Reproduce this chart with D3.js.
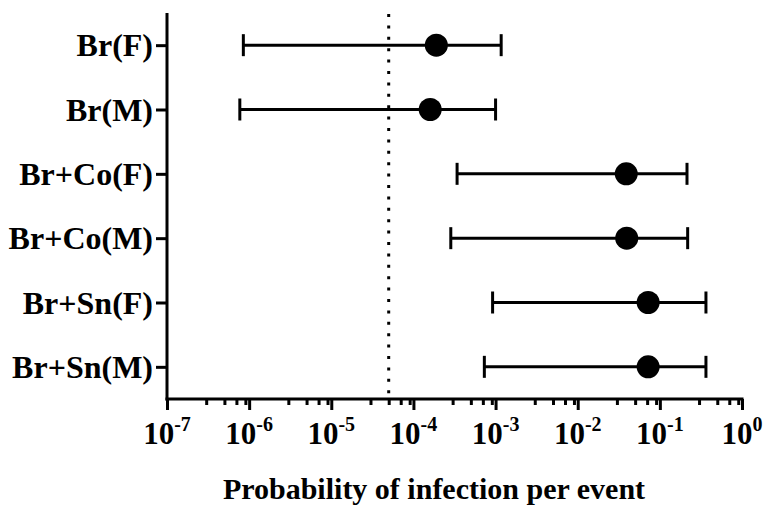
<!DOCTYPE html>
<html>
<head>
<meta charset="utf-8">
<script src="https://cdn.jsdelivr.net/npm/d3@7"></script>
<style>
  html, body { margin: 0; padding: 0; background: #fff; }
  svg { display: block; }
  text { font-family: "Times New Roman", "Liberation Serif", serif; font-weight: bold; fill: #000; }
</style>
</head>
<body>
<script>
const categories = ["Br(F)", "Br(M)", "Br+Co(F)", "Br+Co(M)", "Br+Sn(F)", "Br+Sn(M)"];
const estimate = [1.9e-4, 1.6e-4, 3.9e-2, 3.95e-2, 7.2e-2, 7.2e-2];
const lower = [8.5e-7, 7.7e-7, 3.4e-4, 2.85e-4, 9.2e-4, 7.3e-4];
const upper = [1.17e-3, 1.0e-3, 0.214, 0.218, 0.364, 0.364];
const threshold = 5e-5;
const majorTicks = [1e-7, 1e-6, 1e-5, 1e-4, 1e-3, 1e-2, 1e-1, 1];
const tickExponents = ["-7", "-6", "-5", "-4", "-3", "-2", "-1", "0"];
const minorMultipliers = [3, 5, 7, 9];
const xTitle = "Probability of infection per event";

const W = 766, H = 505;
const svg = d3.select("body").append("svg").attr("width", W).attr("height", H);

const x = d3.scaleLog().domain([1e-7, 1]).range([167, 742]);
const y = d3.scalePoint().domain(categories).range([13, 399]).padding(0.5);
const axisY = 399;

// minor ticks
const minorTicks = [];
for (let e = -7; e < 0; e++) {
  minorMultipliers.forEach(m => minorTicks.push(m * Math.pow(10, e)));
}

const gMinor = svg.append("g").attr("transform", `translate(0,${axisY})`)
  .call(d3.axisBottom(x).tickValues(minorTicks).tickSize(6).tickSizeOuter(0).tickFormat(""));
gMinor.select(".domain").remove();
gMinor.selectAll("line").attr("stroke", "#000").attr("stroke-width", 3);

const gX = svg.append("g").attr("transform", `translate(0,${axisY})`)
  .call(d3.axisBottom(x).tickValues(majorTicks).tickSize(11).tickSizeOuter(0).tickFormat(""));
gX.select(".domain").attr("stroke", "#000").attr("stroke-width", 3).attr("d", `M${x(1e-7) - 1.5},0H${x(1) + 1.5}`);
gX.selectAll("line").attr("stroke", "#000").attr("stroke-width", 3);

// tick labels with superscripts
majorTicks.forEach((v, i) => {
  const t = svg.append("text")
    .attr("x", x(v))
    .attr("y", 444)
    .attr("text-anchor", "middle")
    .style("font-size", "31px");
  t.append("tspan").text("10");
  t.append("tspan").attr("dy", -13).style("font-size", "20px").text(tickExponents[i]);
});

// Y axis
const gY = svg.append("g").attr("transform", `translate(167,0)`)
  .call(d3.axisLeft(y).tickSize(11).tickSizeOuter(0).tickFormat(""));
gY.select(".domain").attr("stroke", "#000").attr("stroke-width", 3).attr("d", `M0,13V${axisY + 1.5}`);
gY.selectAll("line").attr("stroke", "#000").attr("stroke-width", 3);

categories.forEach(c => {
  svg.append("text")
    .attr("x", 153)
    .attr("y", y(c) + 11)
    .attr("text-anchor", "end")
    .style("font-size", "32px")
    .text(c);
});

// threshold dotted line
svg.append("line")
  .attr("x1", x(threshold)).attr("x2", x(threshold))
  .attr("y1", 14).attr("y2", axisY)
  .attr("stroke", "#000").attr("stroke-width", 3)
  .attr("stroke-dasharray", "3,8.4");

// error bars
const rows = categories.map((c, i) => ({ c, m: estimate[i], lo: lower[i], hi: upper[i] }));
const g = svg.append("g");
rows.forEach(d => {
  const yy = y(d.c);
  g.append("line").attr("x1", x(d.lo)).attr("x2", x(d.hi)).attr("y1", yy).attr("y2", yy)
    .attr("stroke", "#000").attr("stroke-width", 3);
  [d.lo, d.hi].forEach(v => {
    g.append("line").attr("x1", x(v)).attr("x2", x(v)).attr("y1", yy - 11).attr("y2", yy + 11)
      .attr("stroke", "#000").attr("stroke-width", 3);
  });
  g.append("circle").attr("cx", x(d.m)).attr("cy", yy).attr("r", 11.5).attr("fill", "#000");
});

// x title
svg.append("text")
  .attr("x", 434)
  .attr("y", 499)
  .attr("text-anchor", "middle")
  .style("font-size", "30px")
  .text(xTitle);
</script>
</body>
</html>
